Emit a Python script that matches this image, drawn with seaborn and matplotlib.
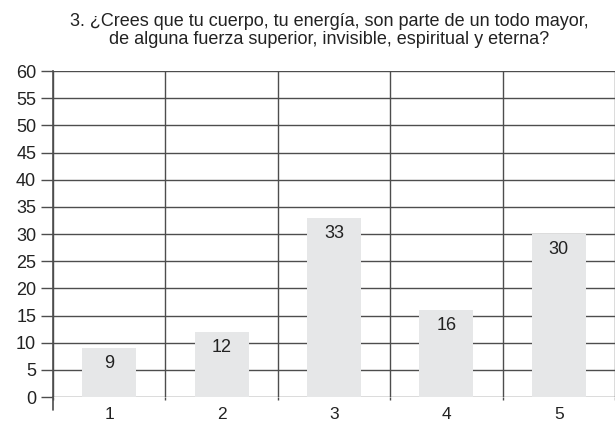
import matplotlib
matplotlib.use('Agg')
import matplotlib.pyplot as plt
import seaborn as sns
import pandas as pd

# Data
categorias = ['1', '2', '3', '4', '5']
valores = [9, 12, 33, 16, 30]
titulo = ('3. ¿Crees que tu cuerpo, tu energía, son parte de un todo mayor,\n'
          'de alguna fuerza superior, invisible, espiritual y eterna?')

sns.set_theme(style="white")
plt.rcParams['font.family'] = ['Liberation Sans', 'DejaVu Sans']

df = pd.DataFrame({'cat': categorias, 'val': valores})

fig = plt.figure(figsize=(6.15, 4.26), dpi=100)
ax = fig.add_axes([0.086, 0.068, 0.914, 0.765])

sns.barplot(data=df, x='cat', y='val', color='#e6e7e8', saturation=1,
            width=0.48, ax=ax, zorder=3, edgecolor='none')

grid_c = '#4d4d4d'
ax.set_ylim(0, 60)
ax.set_xlim(-0.5, 4.5)
ax.set_yticks(range(0, 61, 5))
ax.yaxis.grid(True, color=grid_c, lw=1.0, zorder=0)
ax.set_xticks([i + 0.5 for i in range(-1, 5)], minor=True)
ax.xaxis.grid(True, which='minor', color=grid_c, lw=1.0, zorder=0)
ax.set_axisbelow(True)

for s in ['top', 'right', 'bottom']:
    ax.spines[s].set_visible(False)
ax.spines['left'].set_color(grid_c)
ax.spines['left'].set_linewidth(1.2)

ax.tick_params(axis='y', which='major', left=True, length=9, width=1, color=grid_c,
               labelsize=13, pad=3, labelcolor='#222222')
ax.tick_params(axis='x', which='major', bottom=False, labelsize=12.5, pad=1,
               labelcolor='#222222')
ax.tick_params(axis='x', which='minor', bottom=True, length=2, width=1, color=grid_c)
# extension of the y axis below zero
ax.plot([-0.5, -0.5], [0, -2.3], color=grid_c, lw=1.2, clip_on=False)

for i, v in enumerate(valores):
    ax.annotate(str(v), (i, v), xytext=(0, -11), textcoords='offset points',
                ha='center', va='center', fontsize=13, color='#222222', zorder=4)

ax.set_xlabel('')
ax.set_ylabel('')
fig.text(0.535, 0.928, titulo, ha='center', va='center', fontsize=13,
         color='#222222', linespacing=1.05)

plt.savefig('out.png', dpi=100)
plt.close()
